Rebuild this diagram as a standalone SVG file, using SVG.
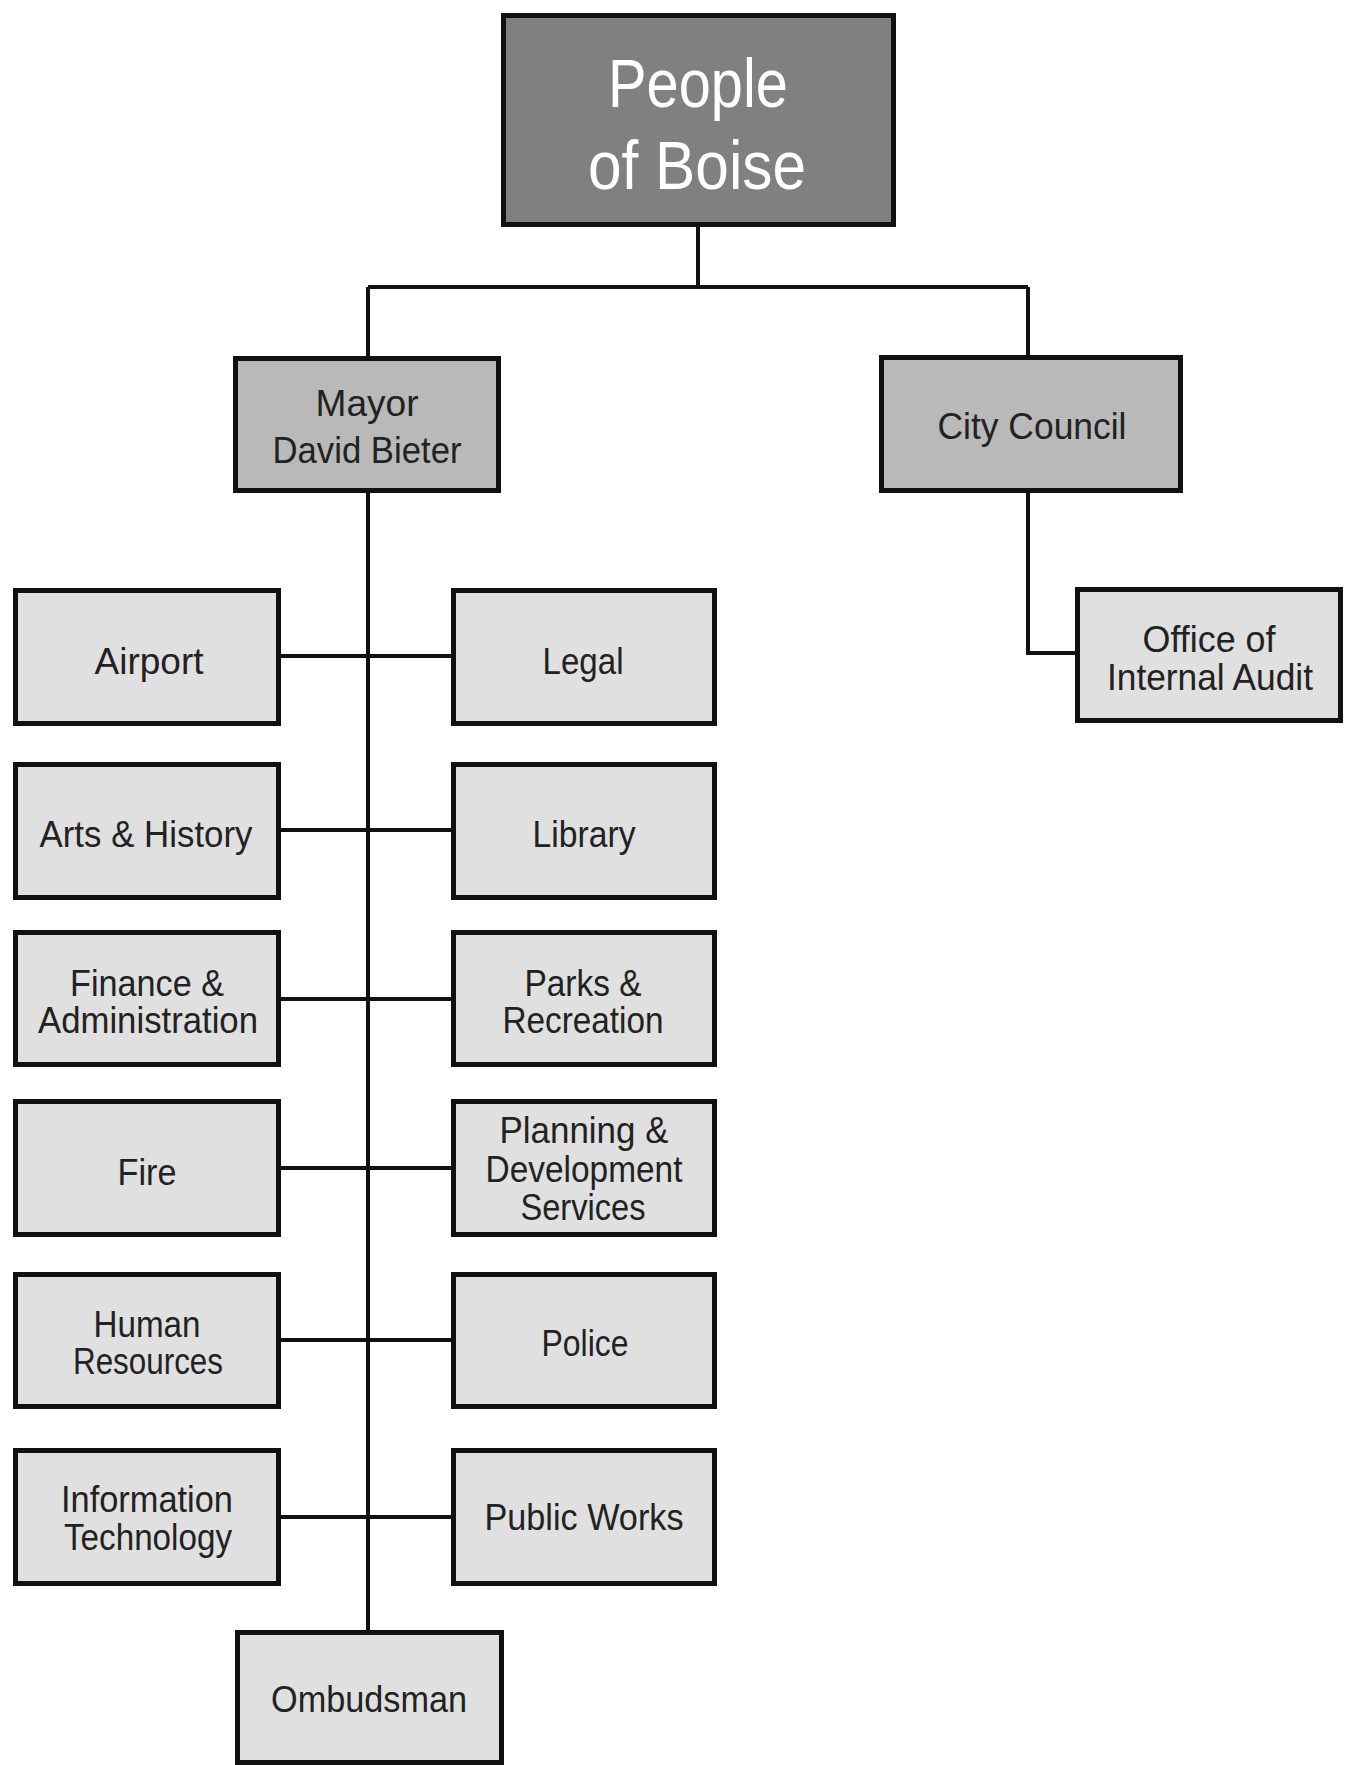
<svg xmlns="http://www.w3.org/2000/svg" width="1357" height="1765" viewBox="0 0 1357 1765">
<style>
.box{stroke:#111;stroke-width:5}
.top{fill:#808080}
.mid{fill:#b9b9b9}
.leaf{fill:#e0e0e0}
.conn{stroke:#111;stroke-width:4;fill:none}
text{font-family:"Liberation Sans",Arial,sans-serif;font-size:37px;fill:#222;text-anchor:middle}
.big{font-size:68px;fill:#fff}
</style>
<rect width="1357" height="1765" fill="#fff"/>
<g id="connectors">
<path class="conn" d="M698 227V287M368 287H1028M368 287V357M1028 287V357M368 493V1631"/>
<path class="conn" d="M281 656H451M281 830H451M281 999H451M281 1168H451M281 1340H451M281 1517H451"/>
<path class="conn" d="M1028 493V653H1075"/>
</g>
<g id="people"><rect class="box top" x="503.5" y="15.5" width="390" height="209"/>
<text class="big" x="698" y="107" textLength="180" lengthAdjust="spacingAndGlyphs">People</text>
<text class="big" x="697" y="189" textLength="218" lengthAdjust="spacingAndGlyphs">of Boise</text></g>
<g id="mayor"><rect class="box mid" x="235.5" y="358.5" width="263" height="132"/>
<text x="367" y="416" textLength="103" lengthAdjust="spacingAndGlyphs">Mayor</text>
<text x="367" y="463" textLength="189" lengthAdjust="spacingAndGlyphs">David Bieter</text></g>
<g id="council"><rect class="box mid" x="881.5" y="357.5" width="299" height="133"/>
<text x="1032" y="439" textLength="189" lengthAdjust="spacingAndGlyphs">City Council</text></g>
<g id="audit"><rect class="box leaf" x="1077.5" y="589.5" width="263" height="131"/>
<text x="1209" y="652" textLength="133" lengthAdjust="spacingAndGlyphs">Office of</text>
<text x="1210" y="690" textLength="206" lengthAdjust="spacingAndGlyphs">Internal Audit</text></g>
<g id="airport"><rect class="box leaf" x="15.5" y="590.5" width="263" height="133"/>
<text x="149" y="674" textLength="109" lengthAdjust="spacingAndGlyphs">Airport</text></g>
<g id="legal"><rect class="box leaf" x="453.5" y="590.5" width="261" height="133"/>
<text x="583" y="674" textLength="81" lengthAdjust="spacingAndGlyphs">Legal</text></g>
<g id="arts"><rect class="box leaf" x="15.5" y="764.5" width="263" height="133"/>
<text x="146" y="847" textLength="213" lengthAdjust="spacingAndGlyphs">Arts &amp; History</text></g>
<g id="library"><rect class="box leaf" x="453.5" y="764.5" width="261" height="133"/>
<text x="584" y="847" textLength="103" lengthAdjust="spacingAndGlyphs">Library</text></g>
<g id="finance"><rect class="box leaf" x="15.5" y="932.5" width="263" height="132"/>
<text x="147" y="996" textLength="154" lengthAdjust="spacingAndGlyphs">Finance &amp;</text>
<text x="148" y="1033" textLength="220" lengthAdjust="spacingAndGlyphs">Administration</text></g>
<g id="parks"><rect class="box leaf" x="453.5" y="932.5" width="261" height="132"/>
<text x="583" y="996" textLength="117" lengthAdjust="spacingAndGlyphs">Parks &amp;</text>
<text x="583" y="1033" textLength="161" lengthAdjust="spacingAndGlyphs">Recreation</text></g>
<g id="fire"><rect class="box leaf" x="15.5" y="1101.5" width="263" height="133"/>
<text x="147" y="1185" textLength="59" lengthAdjust="spacingAndGlyphs">Fire</text></g>
<g id="planning"><rect class="box leaf" x="453.5" y="1101.5" width="261" height="133"/>
<text x="584" y="1143" textLength="169" lengthAdjust="spacingAndGlyphs">Planning &amp;</text>
<text x="584" y="1182" textLength="197" lengthAdjust="spacingAndGlyphs">Development</text>
<text x="583" y="1220" textLength="125" lengthAdjust="spacingAndGlyphs">Services</text></g>
<g id="hr"><rect class="box leaf" x="15.5" y="1274.5" width="263" height="132"/>
<text x="147" y="1337" textLength="107" lengthAdjust="spacingAndGlyphs">Human</text>
<text x="148" y="1374" textLength="150" lengthAdjust="spacingAndGlyphs">Resources</text></g>
<g id="police"><rect class="box leaf" x="453.5" y="1274.5" width="261" height="132"/>
<text x="585" y="1356" textLength="87" lengthAdjust="spacingAndGlyphs">Police</text></g>
<g id="it"><rect class="box leaf" x="15.5" y="1450.5" width="263" height="133"/>
<text x="147" y="1512" textLength="172" lengthAdjust="spacingAndGlyphs">Information</text>
<text x="148" y="1550" textLength="168" lengthAdjust="spacingAndGlyphs">Technology</text></g>
<g id="publicworks"><rect class="box leaf" x="453.5" y="1450.5" width="261" height="133"/>
<text x="584" y="1530" textLength="199" lengthAdjust="spacingAndGlyphs">Public Works</text></g>
<g id="ombudsman"><rect class="box leaf" x="237.5" y="1632.5" width="264" height="130"/>
<text x="369" y="1712" textLength="196" lengthAdjust="spacingAndGlyphs">Ombudsman</text></g>
</svg>
